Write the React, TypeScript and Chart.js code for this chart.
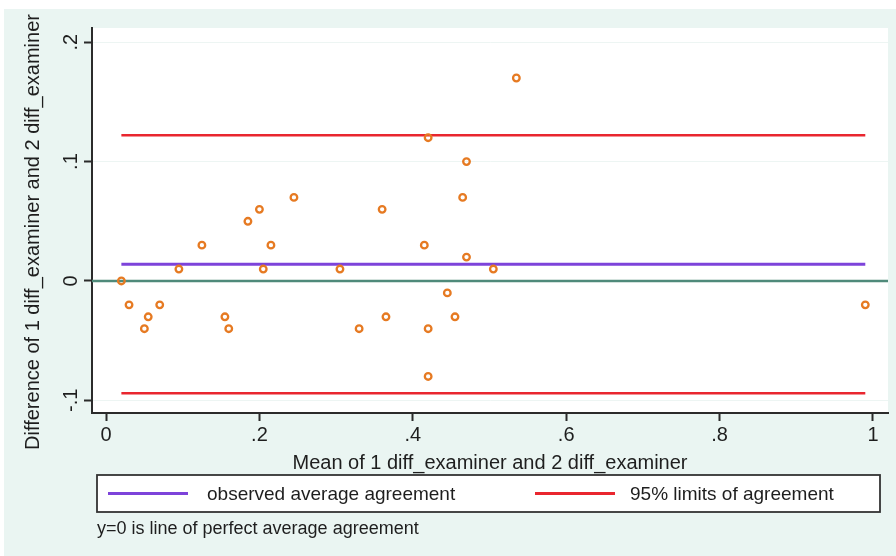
import React, { useEffect, useRef } from 'react';
import { Chart, registerables } from 'chart.js';

Chart.register(...registerables);

// ---- data ----
const meanVals = [
  0.02, 0.03, 0.05, 0.055, 0.07, 0.095, 0.125, 0.155, 0.16, 0.185,
  0.2, 0.205, 0.215, 0.245, 0.305, 0.33, 0.36, 0.365, 0.415, 0.42,
  0.42, 0.42, 0.445, 0.455, 0.465, 0.47, 0.47, 0.505, 0.535, 0.99,
];
const diffVals = [
  0, -0.02, -0.04, -0.03, -0.02, 0.01, 0.03, -0.03, -0.04, 0.05,
  0.06, 0.01, 0.03, 0.07, 0.01, -0.04, 0.06, -0.03, 0.03, 0.12,
  -0.04, -0.08, -0.01, -0.03, 0.07, 0.1, 0.02, 0.01, 0.17, -0.02,
];
const xTickVals = [0, 0.2, 0.4, 0.6, 0.8, 1];
const xTickLabels = ['0', '.2', '.4', '.6', '.8', '1'];
const yTickVals = [-0.1, 0, 0.1, 0.2];
const yTickLabels = ['-.1', '0', '.1', '.2'];
const legendLabels = ['observed average agreement', '95% limits of agreement'];
const xTitle = 'Mean of 1 diff_examiner and 2 diff_examiner';
const yTitle = 'Difference of 1 diff_examiner and 2 diff_examiner';
const noteText = 'y=0 is line of perfect average agreement';

// axis ranges
const X_MIN = -0.0183;
const X_MAX = 1.0196;
const Y_MIN = -0.1106;
const Y_MAX = 0.2119;

// styles
const BG = '#eaf5f2';
const RED = '#e9262f';
const PURPLE = '#7d43da';
const GREEN = '#4f8a7a';
const ORANGE = '#e67a22';
const AXIS = '#2b2b2b';
const TEXT = '#1e1e1e';
const FONT = '"Liberation Sans", Arial, Helvetica, sans-serif';

// Bland-Altman statistics
const n = diffVals.length;
const meanDiff = diffVals.reduce((s, v) => s + v, 0) / n;
const sdDiff = Math.sqrt(diffVals.reduce((s, v) => s + (v - meanDiff) ** 2, 0) / (n - 1));
const upperLoA = meanDiff + 1.96 * sdDiff;
const lowerLoA = meanDiff - 1.96 * sdDiff;
const minMean = Math.min(...meanVals);
const maxMean = Math.max(...meanVals);

const decor = {
  id: 'decor',
  beforeDraw(chart: any) {
    const { ctx, chartArea: a, width, height } = chart;
    ctx.save();
    ctx.fillStyle = '#ffffff';
    ctx.fillRect(0, 0, width, height);
    ctx.fillStyle = BG;
    ctx.fillRect(4, 9, width - 4, height - 9);
    ctx.fillStyle = '#ffffff';
    ctx.fillRect(a.left, a.top, a.right - a.left, a.bottom - a.top);
    ctx.restore();
  },
  afterDraw(chart: any) {
    const { ctx } = chart;
    ctx.save();
    // y axis title
    ctx.fillStyle = TEXT;
    ctx.font = `20px ${FONT}`;
    ctx.textAlign = 'center';
    ctx.textBaseline = 'middle';
    ctx.translate(33, 232);
    ctx.rotate(-Math.PI / 2);
    ctx.fillText(yTitle, 0, 0);
    ctx.restore();

    ctx.save();
    // legend box
    const bx = 97, by = 475, bw = 783, bh = 37;
    ctx.fillStyle = '#ffffff';
    ctx.fillRect(bx, by, bw, bh);
    ctx.strokeStyle = '#333333';
    ctx.lineWidth = 1.8;
    ctx.strokeRect(bx, by, bw, bh);
    const cy = by + bh / 2;
    ctx.lineWidth = 3;
    ctx.strokeStyle = PURPLE;
    ctx.beginPath();
    ctx.moveTo(108, cy);
    ctx.lineTo(188, cy);
    ctx.stroke();
    ctx.strokeStyle = RED;
    ctx.beginPath();
    ctx.moveTo(535, cy);
    ctx.lineTo(615, cy);
    ctx.stroke();
    ctx.fillStyle = TEXT;
    ctx.font = `19px ${FONT}`;
    ctx.textAlign = 'left';
    ctx.textBaseline = 'middle';
    ctx.fillText(legendLabels[0], 207, cy + 1);
    ctx.fillText(legendLabels[1], 630, cy + 1);
    // note
    ctx.font = `18px ${FONT}`;
    ctx.fillText(noteText, 97, 529);
    ctx.restore();
  },
};

export default function App() {
  const ref = useRef<HTMLCanvasElement | null>(null);

  useEffect(() => {
    document.body.style.margin = '0';
    const canvas = ref.current;
    if (!canvas) return;
    const points = meanVals.map((x, i) => ({ x, y: diffVals[i] }));
    const chart = new Chart(canvas, {
      type: 'scatter',
      data: {
        datasets: [
          {
            label: 'points',
            data: points,
            pointStyle: 'circle',
            pointRadius: 3.3,
            pointBorderWidth: 2.3,
            borderColor: ORANGE,
            backgroundColor: 'rgba(255,255,255,0)',
            pointBackgroundColor: 'rgba(255,255,255,0)',
            pointBorderColor: ORANGE,
          } as any,
          {
            label: 'zero',
            data: [{ x: X_MIN, y: 0 }, { x: X_MAX, y: 0 }],
            showLine: true,
            pointRadius: 0,
            borderColor: GREEN,
            borderWidth: 2.4,
          } as any,
          {
            label: legendLabels[0],
            data: [{ x: minMean, y: meanDiff }, { x: maxMean, y: meanDiff }],
            showLine: true,
            pointRadius: 0,
            borderColor: PURPLE,
            borderWidth: 3,
          } as any,
          {
            label: legendLabels[1],
            data: [{ x: minMean, y: upperLoA }, { x: maxMean, y: upperLoA }],
            showLine: true,
            pointRadius: 0,
            borderColor: RED,
            borderWidth: 2.5,
          } as any,
          {
            label: legendLabels[1] + ' (lower)',
            data: [{ x: minMean, y: lowerLoA }, { x: maxMean, y: lowerLoA }],
            showLine: true,
            pointRadius: 0,
            borderColor: RED,
            borderWidth: 2.5,
          } as any,
        ],
      },
      options: {
        responsive: false,
        animation: false,
        devicePixelRatio: 1,
        layout: { padding: { left: 0, top: 28, right: 8, bottom: 76 } },
        plugins: {
          legend: { display: false },
          tooltip: { enabled: false },
        },
        scales: {
          x: {
            type: 'linear',
            min: X_MIN,
            max: X_MAX,
            afterBuildTicks: (scale: any) => {
              scale.ticks = xTickVals.map((v) => ({ value: v }));
            },
            afterFit: (scale: any) => {
              scale.height = 67;
            },
            ticks: {
              autoSkip: false,
              maxRotation: 0,
              minRotation: 0,
              padding: 2,
              color: TEXT,
              font: { family: FONT, size: 20 },
              callback: (_v: any, i: number) => xTickLabels[i],
            },
            grid: {
              display: true,
              drawOnChartArea: false,
              drawTicks: true,
              tickLength: 8,
              tickColor: AXIS,
              tickWidth: 2,
              color: AXIS,
            },
            border: { display: true, color: AXIS, width: 2 },
            title: {
              display: true,
              text: xTitle,
              color: TEXT,
              font: { family: FONT, size: 20 },
              padding: { top: 0, bottom: 5 },
            },
          },
          y: {
            type: 'linear',
            min: Y_MIN,
            max: Y_MAX,
            afterBuildTicks: (scale: any) => {
              scale.ticks = yTickVals.map((v) => ({ value: v }));
            },
            afterFit: (scale: any) => {
              scale.width = 92;
            },
            ticks: {
              autoSkip: false,
              minRotation: 90,
              maxRotation: 90,
              crossAlign: 'center',
              padding: 1,
              color: TEXT,
              font: { family: FONT, size: 20 },
              callback: (_v: any, i: number) => yTickLabels[i],
            },
            grid: {
              display: true,
              drawOnChartArea: true,
              drawTicks: true,
              tickLength: 8,
              tickColor: AXIS,
              tickWidth: 2,
              color: '#edf5f3',
              lineWidth: 1,
            },
            border: { display: true, color: AXIS, width: 2 },
            title: { display: false },
          },
        },
      },
      plugins: [decor],
    } as any);
    return () => chart.destroy();
  }, []);

  return (
    <div style={{ position: 'fixed', left: 0, top: 0, width: 896, height: 556 }}>
      <canvas ref={ref} width={896} height={556} style={{ display: 'block', width: 896, height: 556 }} />
    </div>
  );
}
